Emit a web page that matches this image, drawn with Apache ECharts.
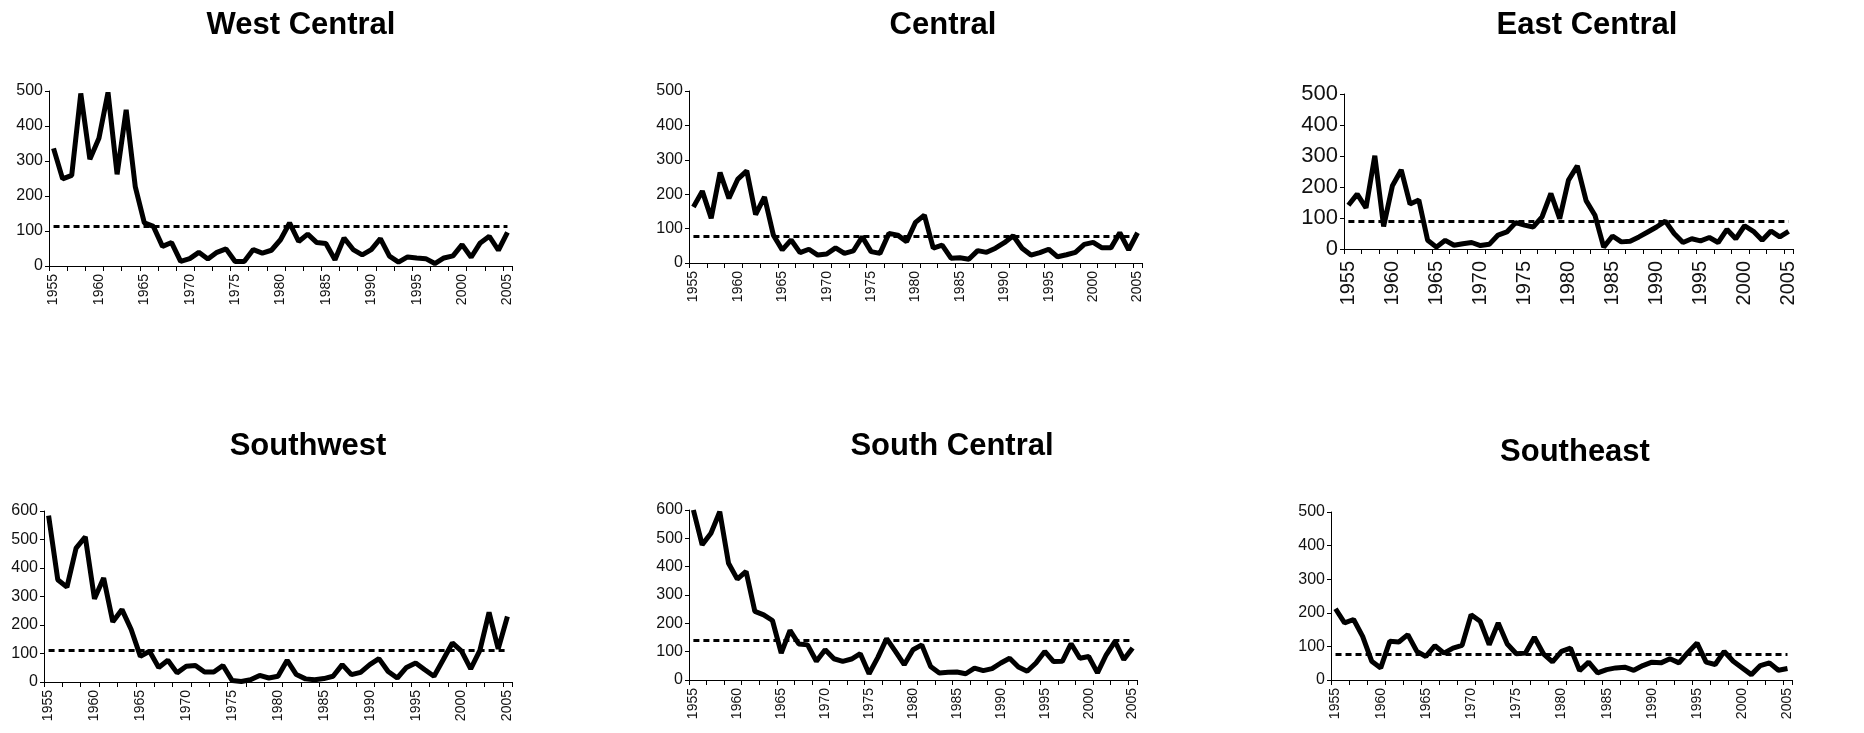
<!DOCTYPE html>
<html>
<head>
<meta charset="utf-8">
<script src="https://cdn.jsdelivr.net/npm/echarts@6/dist/echarts.min.js"></script>
<style>
  html, body { margin: 0; padding: 0; background: #fff; }
  #chart { width: 1864px; height: 733px; }
</style>
</head>
<body>
<div id="chart"></div>
<script>
// years (categories)
var years = ['1955', '1956', '1957', '1958', '1959', '1960', '1961', '1962', '1963', '1964',
  '1965', '1966', '1967', '1968', '1969', '1970', '1971', '1972', '1973', '1974',
  '1975', '1976', '1977', '1978', '1979', '1980', '1981', '1982', '1983', '1984',
  '1985', '1986', '1987', '1988', '1989', '1990', '1991', '1992', '1993', '1994',
  '1995', '1996', '1997', '1998', '1999', '2000', '2001', '2002', '2003', '2004', '2005'];

// values per region
var westCentral = [336, 249, 259, 493, 305, 365, 496, 262, 446, 227,
  123, 113, 56, 67, 13, 21, 39, 20, 39, 49,
  13, 13, 47, 37, 45, 75, 123, 70, 91, 67,
  64, 18, 80, 47, 32, 47, 78, 28, 11, 26,
  23, 21, 7, 23, 29, 61, 25, 66, 85, 45, 96];
var central = [163, 209, 130, 263, 188, 244, 268, 141, 192, 81,
  38, 67, 30, 40, 23, 26, 44, 28, 35, 76,
  33, 28, 86, 81, 62, 118, 139, 43, 52, 14,
  15, 11, 36, 31, 43, 59, 79, 43, 23, 30,
  40, 18, 24, 31, 54, 60, 44, 44, 88, 38, 88];
var eastCentral = [141, 177, 133, 301, 73, 204, 255, 145, 158, 28,
  6, 28, 12, 17, 21, 11, 15, 45, 55, 85,
  77, 71, 104, 179, 98, 222, 268, 156, 109, 6,
  42, 23, 25, 39, 55, 71, 90, 50, 21, 33,
  26, 37, 21, 63, 33, 75, 57, 28, 58, 39, 57];
var southwest = [584, 359, 333, 470, 509, 292, 365, 211, 254, 184,
  90, 108, 51, 76, 32, 55, 58, 35, 35, 58,
  5, 2, 8, 23, 14, 20, 76, 26, 11, 8,
  12, 20, 61, 26, 34, 61, 82, 37, 14, 51,
  67, 43, 20, 78, 137, 108, 46, 111, 244, 116, 230];
var southCentral = [600, 477, 518, 594, 412, 356, 383, 242, 230, 210,
  95, 175, 127, 124, 66, 107, 75, 66, 74, 93,
  22, 80, 146, 101, 54, 107, 124, 48, 25, 27,
  28, 22, 42, 33, 40, 60, 77, 46, 31, 60,
  101, 65, 66, 128, 77, 83, 25, 89, 136, 72, 113];
var southeast = [212, 170, 180, 130, 56, 36, 115, 113, 135, 85,
  70, 102, 80, 95, 103, 194, 175, 105, 170, 107,
  78, 80, 127, 78, 54, 85, 95, 28, 53, 21,
  31, 36, 38, 29, 43, 53, 51, 63, 51, 82,
  110, 53, 46, 85, 56, 36, 16, 43, 51, 29, 34];

// dashed reference level per region
var averages = [115, 78, 90, 112, 140, 78];
var titles = ['West Central', 'Central', 'East Central', 'Southwest', 'South Central', 'Southeast'];
var yMax = [500, 500, 500, 600, 600, 500];
var seriesData = [westCentral, central, eastCentral, southwest, southCentral, southeast];

// plot boxes, matched to the original
var boxes = [
  { left: 49, top: 91, width: 463, height: 175, tx: 296, ty: 5, yFont: 16, xFont: 14, xMargin: 8 },
  { left: 689, top: 91, width: 453, height: 172, tx: 938, ty: 5, yFont: 16, xFont: 14, xMargin: 8 },
  { left: 1344, top: 94, width: 449, height: 155, tx: 1582, ty: 5, yFont: 22, xFont: 20, xMargin: 12 },
  { left: 44, top: 511, width: 468, height: 171, tx: 303, ty: 426, yFont: 16, xFont: 14, xMargin: 8 },
  { left: 689, top: 510, width: 448, height: 170, tx: 947, ty: 426, yFont: 16, xFont: 14, xMargin: 8 },
  { left: 1331, top: 512, width: 461, height: 168, tx: 1570, ty: 432, yFont: 16, xFont: 14, xMargin: 8 }
];

var font = 'Liberation Sans, Arial, sans-serif';
var option = {
  animation: false,
  backgroundColor: '#fff',
  title: [],
  grid: [],
  xAxis: [],
  yAxis: [],
  series: []
};

titles.forEach(function (t, i) {
  var b = boxes[i];
  option.title.push({
    text: t,
    left: b.tx,
    top: b.ty,
    textAlign: 'center',
    textStyle: { fontFamily: font, fontSize: 31, fontWeight: 'bold', color: '#000' }
  });
  option.grid.push({ left: b.left, top: b.top, width: b.width, height: b.height, containLabel: false });
  option.xAxis.push({
    type: 'category',
    gridIndex: i,
    data: years,
    boundaryGap: true,
    axisLine: { lineStyle: { color: '#000', width: 1 } },
    axisTick: { show: true, interval: 1, length: 5, lineStyle: { color: '#000' } },
    axisLabel: {
      interval: 4, rotate: 90, margin: b.xMargin,
      fontFamily: font, fontSize: b.xFont, color: '#111'
    },
    splitLine: { show: false }
  });
  option.yAxis.push({
    type: 'value',
    gridIndex: i,
    min: 0,
    max: yMax[i],
    interval: 100,
    axisLine: { show: true, lineStyle: { color: '#000', width: 1 } },
    axisTick: { show: true, length: 4, lineStyle: { color: '#000' } },
    axisLabel: { margin: 6, fontFamily: font, fontSize: b.yFont, color: '#111' },
    splitLine: { show: false }
  });
  option.series.push({
    type: 'line',
    xAxisIndex: i,
    yAxisIndex: i,
    data: seriesData[i],
    symbol: 'none',
    lineStyle: { color: '#000', width: 5, join: 'bevel' },
    markLine: {
      silent: true,
      symbol: 'none',
      label: { show: false },
      lineStyle: { color: '#000', width: 3, type: [6, 4] },
      data: [[{ coord: [0, averages[i]] }, { coord: [years.length - 1, averages[i]] }]]
    }
  });
});

var chart = echarts.init(document.getElementById('chart'));
chart.setOption(option);
</script>
</body>
</html>
